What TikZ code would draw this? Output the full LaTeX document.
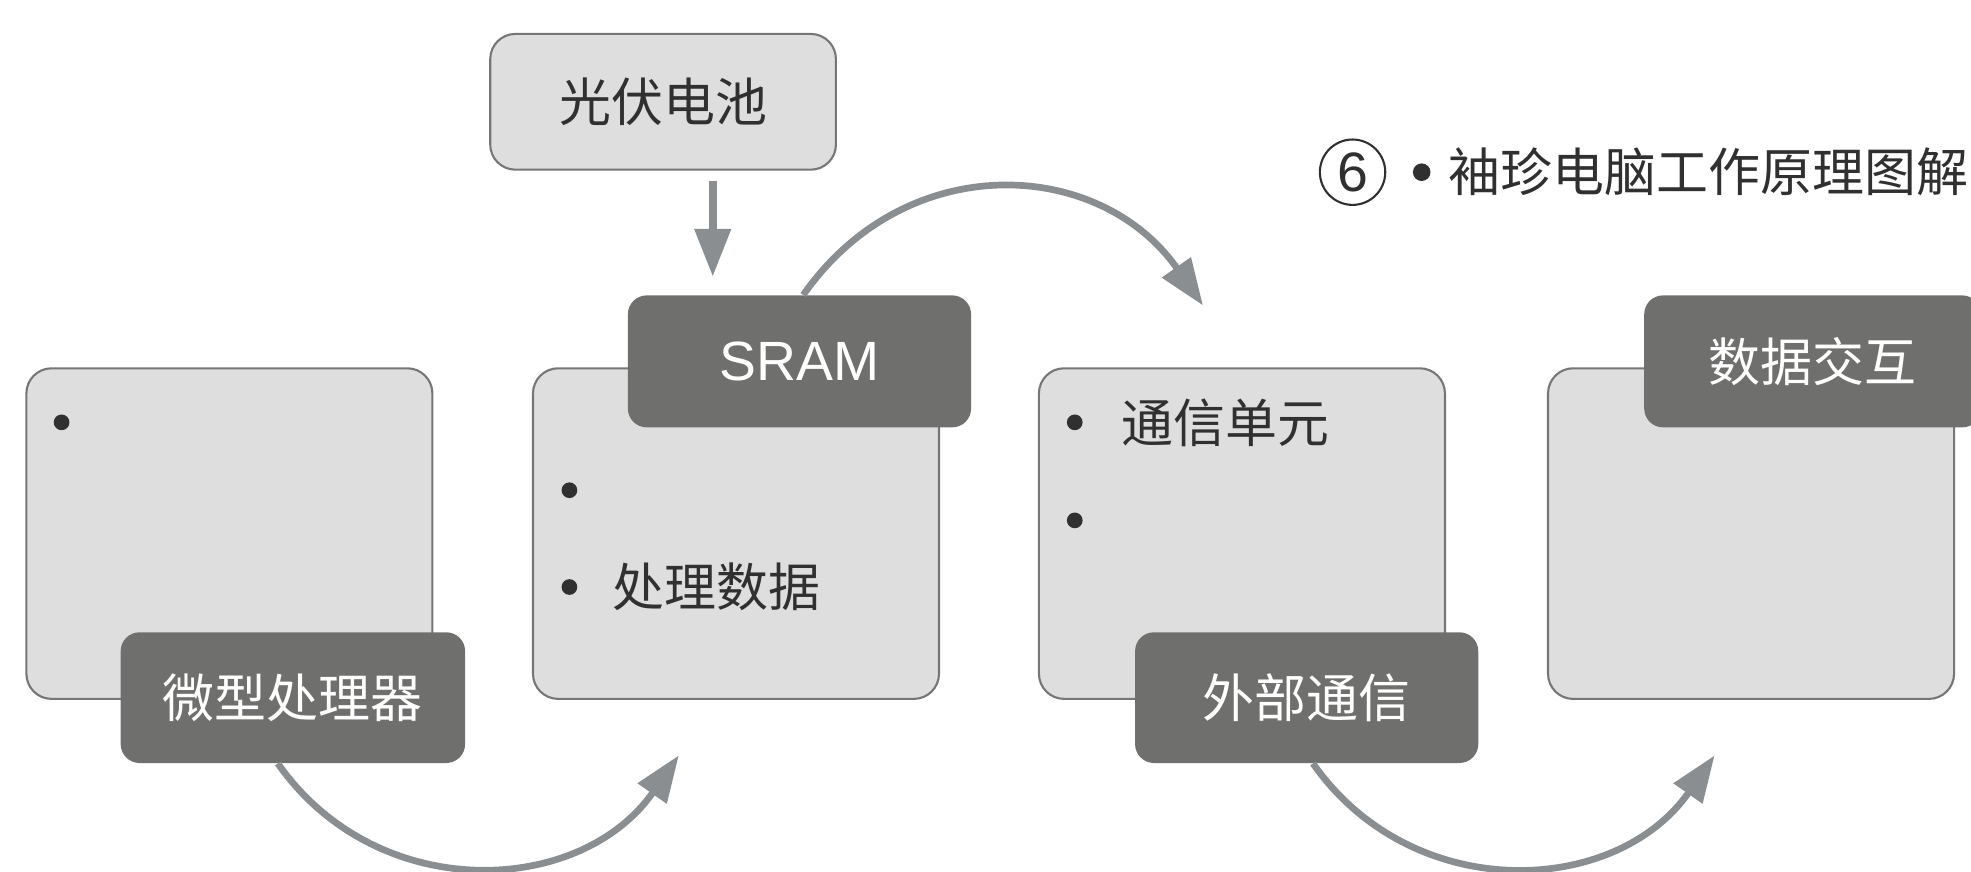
\documentclass[tikz,border=0pt]{standalone}
\usepackage{fontspec}
\setmainfont{Noto Sans CJK SC}
\newfontfamily\latinfont{Liberation Sans}
\usetikzlibrary{arrows.meta}
\definecolor{lightbox}{RGB}{222,222,222}
\definecolor{boxline}{RGB}{118,118,118}
\definecolor{darkbox}{RGB}{111,112,110}
\definecolor{arrowgray}{RGB}{138,142,145}
\definecolor{txt}{RGB}{48,48,48}
\begin{document}
\begin{tikzpicture}[x=0.6pt,y=0.6pt,
  cjk/.style={font=\fontsize{24.8}{30}\selectfont},
  panel/.style={draw=boxline, line width=1pt, fill=lightbox, rounded corners=12pt,
    minimum width=323*0.6pt, minimum height=263*0.6pt, inner sep=0pt},
  tag/.style={fill=darkbox, rounded corners=9pt, text=white, inner sep=0pt, cjk,
    minimum width=273*0.6pt, minimum height=105*0.6pt},
  srcbox/.style={draw=boxline, line width=1pt, fill=lightbox, rounded corners=12pt,
    text=txt, inner sep=0pt, cjk, minimum width=275*0.6pt, minimum height=108*0.6pt},
  bul/.style={circle, fill=txt, inner sep=0pt, minimum size=12.5*0.6pt},
  item/.style={anchor=west, inner sep=0pt, text=txt, cjk},
  flow/.style={draw=arrowgray, line width=3.2pt, -{Triangle[length=37*0.6pt, width=27*0.6pt]}},
  feed/.style={draw=arrowgray, line width=3.6pt, -{Triangle[length=38*0.6pt, width=28*0.6pt]}}
]
\useasboundingbox (0,0) rectangle (1568,693);
\clip (0,0) rectangle (1568,693);

% panels
\node[panel] (b1) at (182.5,268.5) {};
\node[panel] (b2) at (585.5,268.5) {};
\node[panel] (b3) at (988,268.5) {};
\node[panel] (b4) at (1393,268.5) {};

% source box
\node[srcbox] (pv) at (527.5,612) {光伏电池};

% tags
\node[tag] (sram) at (636,405.5) {\latinfont\fontsize{26.4}{30}\selectfont SRAM};
\node[tag, minimum width=274*0.6pt, minimum height=104*0.6pt] (mp) at (233,138) {微型处理器};
\node[tag, minimum height=104*0.6pt] (ext) at (1039.5,138) {外部通信};
\node[tag, minimum width=268*0.6pt] (dx) at (1442,405.5) {数据交互};

% bullets and items
\node[bul] (p1a) at (49,357) {};
\node[bul] (p2a) at (453,303) {};
\node[bul] (p2b) at (453,226) {};
\node[item] (t2b) at (487,226) {处理数据};
\node[bul] (p3a) at (855,357) {};
\node[item] (t3a) at (892,357) {通信单元};
\node[bul] (p3b) at (855,279) {};

% title
\node[circle, draw=txt, line width=1pt, minimum size=52*0.6pt, inner sep=0pt, text=txt,
  font=\latinfont\fontsize{26.5}{30}\selectfont] (num) at (1076,556) {6};
\node[bul, minimum size=14*0.6pt] (tb) at (1131,556) {};
\node[item] (title) at (1152,556) {袖珍电脑工作原理图解};

% connectors
\coordinate (dn) at (567,458);
\draw[feed, shorten <=8*0.6pt, shorten >=15*0.6pt] (pv.south -| dn) -- (dn);

\coordinate (aEnd) at (540,92);
\coordinate (bEnd) at (957,450);
\coordinate (cEnd) at (1364,92);
\draw[flow] ([xshift=-12*0.6pt]mp.south) to[out=-55, in=-125, looseness=1.1] (aEnd);
\draw[flow] ([xshift=3*0.6pt]sram.north) to[out=55, in=125, looseness=1.15] (bEnd);
\draw[flow] ([xshift=5*0.6pt]ext.south) to[out=-55, in=-125, looseness=1.1] (cEnd);
\end{tikzpicture}
\end{document}
